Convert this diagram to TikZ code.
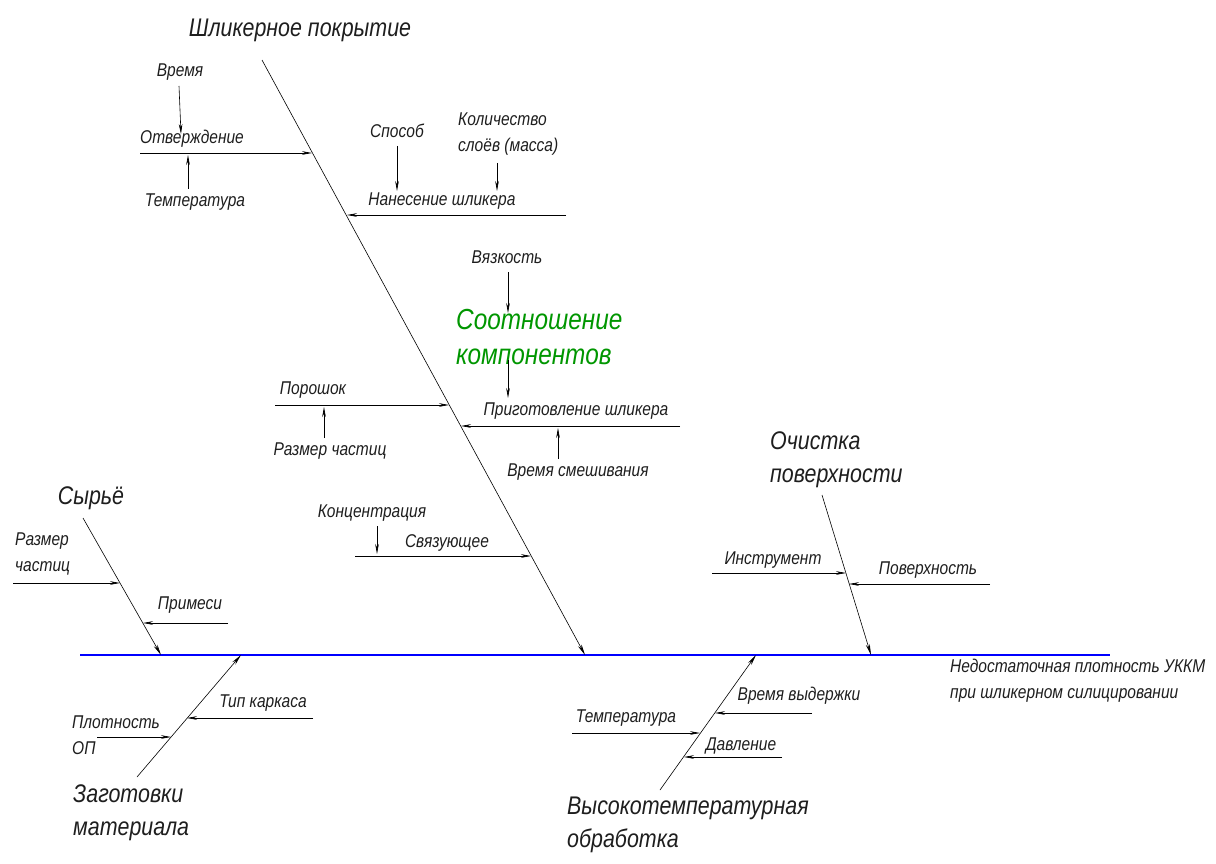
\documentclass[tikz,border=0pt]{standalone}
\usepackage{fontspec}
\setmainfont{Liberation Sans}
\newfontfamily\condfont[FakeStretch=0.84]{Liberation Sans}
\usetikzlibrary{arrows.meta}
\newcommand\labfont{\condfont\fontsize{18.5}{26}\selectfont\itshape}
\newcommand\bigfont{\condfont\fontsize{25.5}{33}\selectfont\itshape}
\newcommand\grnfont{\condfont\fontsize{29}{35}\selectfont\itshape}
\definecolor{txt}{RGB}{30,30,30}
\definecolor{spineblue}{RGB}{0,0,255}
\definecolor{grn}{RGB}{0,150,0}
\tikzset{
  lab/.style={font=\labfont, text=txt, inner sep=0pt},
  ttl/.style={font=\bigfont, text=txt, inner sep=0pt},
  grnlab/.style={font=\grnfont, text=grn, inner sep=0pt, align=left},
  bone/.style={draw=black, line width=0.6pt, -{Stealth[length=11pt,width=4pt]}},
  rib/.style={draw=black, line width=0.6pt, -{Stealth[length=10pt,width=3.6pt]}},
  spine/.style={draw=spineblue, line width=2.2pt}
}
\begin{document}
\begin{tikzpicture}[x=1pt,y=-1pt]
\useasboundingbox (0,0) rectangle (1216,864);
% spine
\coordinate (s0) at (80,655);
\coordinate (s1) at (1110,655);
\draw[spine] (s0) -- (s1);
\node[lab, anchor=west, align=left] (effect) at (950,681) {Недостаточная плотность УККМ\\при шликерном силицировании};

% ---- Branch 1: Шликерное покрытие
\node[ttl] (t1) at (300,30) {Шликерное покрытие};
\coordinate (b1top) at (262,60);
\coordinate (b1end) at (585,655);
\draw[bone] (b1top) -- (b1end);
\coordinate (j11) at (312,153);
\coordinate (j12) at (347,215);
\coordinate (j13) at (449,405);
\coordinate (j14) at (461,426);
\coordinate (j15) at (531,556);
% Отверждение
\coordinate (r11) at (140,153);
\draw[rib] (r11) -- (j11);
\node[lab] (otv) at (192,139) {Отверждение};
\node[lab] (vrem1) at (180,72) {Время};
\coordinate (a11) at (179,86); \coordinate (a11e) at (181,134);
\draw[rib] (a11) -- (a11e);
\node[lab] (temp1) at (195,202) {Температура};
\coordinate (a12) at (188,189); \coordinate (a12e) at (188,155);
\draw[rib] (a12) -- (a12e);
% Нанесение шликера
\coordinate (r12) at (566,215);
\draw[rib] (r12) -- (j12);
\node[lab] (nan) at (442,201) {Нанесение шликера};
\node[lab] (sposob) at (397,131) {Способ};
\coordinate (a13) at (397,146); \coordinate (a13e) at (397,191);
\draw[rib] (a13) -- (a13e);
\node[lab, anchor=west, align=left] (kol) at (458,134) {Количество\\слоёв (масса)};
\coordinate (a14) at (497,163); \coordinate (a14e) at (497,191);
\draw[rib] (a14) -- (a14e);
% Вязкость / Соотношение
\node[lab] (vyaz) at (507,257) {Вязкость};
\node[grnlab, anchor=west] (sootn) at (456,337) {Соотношение\\компонентов};
\coordinate (a15) at (508,272); \coordinate (a15e) at (508,313);
\draw[rib] (a15) -- (a15e);
\coordinate (a16) at (508,360); \coordinate (a16e) at (508,398);
\draw[rib] (a16) -- (a16e);
% Приготовление шликера
\coordinate (r14) at (680,426);
\draw[rib] (r14) -- (j14);
\node[lab] (prig) at (576,411) {Приготовление шликера};
\node[lab] (vsm) at (578,472) {Время смешивания};
\coordinate (a17) at (558,459); \coordinate (a17e) at (558,428);
\draw[rib] (a17) -- (a17e);
% Порошок
\coordinate (r13) at (275,405);
\draw[rib] (r13) -- (j13);
\node[lab] (por) at (313,390) {Порошок};
\node[lab] (razm1) at (330,451) {Размер частиц};
\coordinate (a18) at (324,438); \coordinate (a18e) at (324,407);
\draw[rib] (a18) -- (a18e);
% Связующее
\coordinate (r15) at (355,556);
\draw[rib] (r15) -- (j15);
\node[lab] (svyaz) at (447,543) {Связующее};
\node[lab] (konc) at (372,513) {Концентрация};
\coordinate (a19) at (377,526); \coordinate (a19e) at (377,554);
\draw[rib] (a19) -- (a19e);

% ---- Branch 2: Сырьё
\node[ttl] (t2) at (91,498) {Сырьё};
\coordinate (b2top) at (83,518);
\coordinate (b2end) at (161,655);
\draw[bone] (b2top) -- (b2end);
\coordinate (j21) at (120,583);
\coordinate (j22) at (143,623);
\coordinate (r21) at (13,583);
\draw[rib] (r21) -- (j21);
\node[lab, anchor=west, align=left] (razm2) at (15,554) {Размер\\частиц};
\coordinate (r22) at (228,623);
\draw[rib] (r22) -- (j22);
\node[lab] (prim) at (190,605) {Примеси};

% ---- Branch 3: Заготовки материала
\node[ttl, anchor=west, align=left] (t3) at (73,813) {Заготовки\\материала};
\coordinate (b3bot) at (137,777);
\coordinate (b3end) at (241,655);
\draw[bone] (b3bot) -- (b3end);
\coordinate (j31) at (187,718);
\coordinate (j32) at (171,737);
\coordinate (r31) at (313,718);
\draw[rib] (r31) -- (j31);
\node[lab] (tip) at (263,703) {Тип каркаса};
\coordinate (r32) at (97,737);
\draw[rib] (r32) -- (j32);
\node[lab, anchor=west, align=left] (plot) at (72,735) {Плотность\\ОП};

% ---- Branch 4: Высокотемпературная обработка
\node[ttl, anchor=west, align=left] (t4) at (567,825) {Высокотемпературная\\обработка};
\coordinate (b4bot) at (660,790);
\coordinate (b4end) at (756,655);
\draw[bone] (b4bot) -- (b4end);
\coordinate (j41) at (715,713);
\coordinate (j42) at (700,733);
\coordinate (j43) at (684,757);
\coordinate (r41) at (812,713);
\draw[rib] (r41) -- (j41);
\node[lab] (vyd) at (799,696) {Время выдержки};
\coordinate (r42) at (572,733);
\draw[rib] (r42) -- (j42);
\node[lab] (temp2) at (626,718) {Температура};
\coordinate (r43) at (782,757);
\draw[rib] (r43) -- (j43);
\node[lab] (davl) at (741,746) {Давление};

% ---- Branch 5: Очистка поверхности
\node[ttl, anchor=west, align=left] (t5) at (770,460) {Очистка\\поверхности};
\coordinate (b5top) at (822,495);
\coordinate (b5end) at (871,655);
\draw[bone] (b5top) -- (b5end);
\coordinate (j51) at (846,573);
\coordinate (j52) at (849,584);
\coordinate (r51) at (712,573);
\draw[rib] (r51) -- (j51);
\node[lab] (instr) at (773,560) {Инструмент};
\coordinate (r52) at (990,584);
\draw[rib] (r52) -- (j52);
\node[lab] (pov) at (928,570) {Поверхность};
\end{tikzpicture}
\end{document}
